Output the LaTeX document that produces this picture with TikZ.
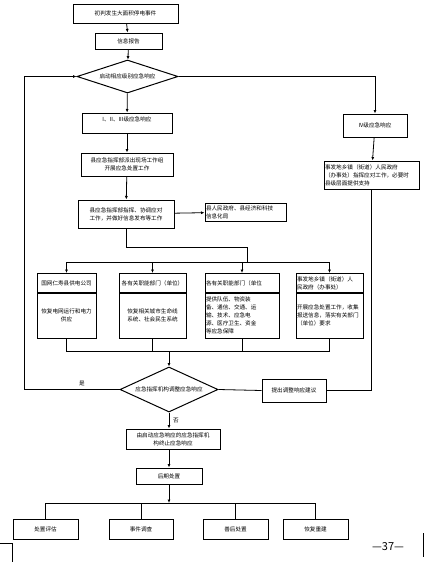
\documentclass[tikz,border=0pt]{standalone}
\usepackage{fontspec}
\setmainfont{Noto Sans CJK SC}
\usetikzlibrary{arrows.meta,shapes.geometric}
\tikzset{
  box/.style={draw, line width=1pt, inner sep=1pt, align=center, font=\fontsize{5.6}{8}\selectfont},
  lbox/.style={box, align=left},
  choice/.style={draw, diamond, line width=1pt, inner sep=0pt, font=\fontsize{5.6}{8}\selectfont},
  link/.style={line width=0.8pt},
  flow/.style={link, -{Latex[length=3.5pt,width=3pt]}},
}
\begin{document}
\begin{tikzpicture}[x=1pt,y=-1pt]
	\useasboundingbox (0,0) rectangle (425,562);
	\node[box, minimum width=105pt, minimum height=19pt] (start) at (125.5,13.5) {初判发生大面积停电事件};
	\node[box, minimum width=67pt, minimum height=16pt] (report) at (128.5,41) {信息报告};
	\node[choice, aspect=3, minimum width=101pt, minimum height=33pt] (level) at (127.5,76.5) {启动相应级别应急响应};
	\node[box, minimum width=90pt, minimum height=20pt] (major) at (127,123) {I、II、III级应急响应\\ \mbox{}};
	\node[box, minimum width=64pt, minimum height=23pt] (minor) at (375,125.5) {IV级应急响应};
	\node[lbox, text width=93pt, minimum height=28pt] (town) at (371.5,175) {事发地乡镇（街道）人民政府\\（办事处）指挥应对工作，必要时\\县级层面提供支持};
	\node[box, minimum width=92pt, minimum height=23pt] (team) at (127,164.5) {县应急指挥部派出现场工作组\\开展应急处置工作};
	\node[box, minimum width=96pt, minimum height=28pt] (command) at (126,214) {县应急指挥部指挥、协调应对\\工作，并做好信息发布等工作};
	\node[lbox, text width=79pt, minimum height=18pt] (inform) at (245.5,212) {县人民政府、县经济和科技\\信息化局};
	\node[box, minimum width=59pt, minimum height=19pt] (gridh) at (66.5,283) {国网仁寿县供电公司};
	\node[box, minimum width=59pt, minimum height=44.5pt, anchor=north] (gridb) at (gridh.south) {恢复电网运行和电力\\供应};
	\node[box, minimum width=67pt, minimum height=19pt] (lifeh) at (152.5,283) {各有关职能部门（单位）};
	\node[box, minimum width=67pt, minimum height=44.5pt, anchor=north] (lifeb) at (lifeh.south) {恢复相关城市生命线\\系统、社会民生系统};
	\node[lbox, text width=72pt, minimum height=19pt] (supph) at (242,283) {各有关职能部门（单位};
	\node[lbox, text width=72pt, minimum height=44.5pt, anchor=north] (suppb) at (supph.south) {提供队伍、物资装\\备、通信、交通、运\\输、技术、应急电\\源、医疗卫生、资金\\等应急保障};
	\node[lbox, text width=65pt, minimum height=19pt] (townh) at (329.5,283) {事发地乡镇（街道）人\\民政府（办事处）};
	\node[lbox, text width=65pt, minimum height=44.5pt, anchor=north] (townb) at (townh.south) {开展应急处置工作，收集\\报送信息，落实有关部门\\（单位）要求};
	\node[choice, aspect=2.2, minimum width=98pt, minimum height=45pt] (adjust) at (169,389.5) {应急指挥机构调整应急响应};
	\node[box, minimum width=64pt, minimum height=23pt] (suggest) at (294,390.5) {提出调整响应建议};
	\node[box, minimum width=94pt, minimum height=20pt] (finish) at (173,439) {由启动应急响应的应急指挥机\\构终止应急响应};
	\node[box, minimum width=66pt, minimum height=16pt] (after) at (169,476) {后期处置};
	\node[box, minimum width=65pt, minimum height=20pt] (eval) at (45.5,529) {处置评估};
	\node[box, minimum width=64pt, minimum height=20pt] (probe) at (141,529) {事件调查};
	\node[box, minimum width=65pt, minimum height=20pt] (relief) at (235.5,529) {善后处置};
	\node[box, minimum width=65pt, minimum height=20pt] (rebuild) at (315.5,529) {恢复重建};
	\node[font=\fontsize{5.6}{8}\selectfont] (yes) at (82,383) {是};
	\node[font=\fontsize{5.6}{8}\selectfont] (no) at (176,421) {否};
	\node[font=\fontsize{11}{13}\selectfont] (page) at (388,547) {—37—};
	\coordinate (bend) at (247,247);
	\coordinate (split) at (247,262);
	\coordinate (merge) at (169,351);
	\coordinate (loop) at (24,389.5);
	\coordinate (fan) at (169,503);
	\draw[flow] (start) -- (report);
	\draw[flow] (report) -- (level);
	\draw[flow] (level) -- (major);
	\draw[flow] (level.east) -| (minor.north);
	\draw[flow] (minor) -- (town);
	\draw[flow] (major) -- (team);
	\draw[flow] (team) -- (command);
	\draw[flow] (command) -- (inform);
	\draw[link] (command.south) |- (bend) -- (split);
	\draw[link] (split -| gridh.north) -- (split -| townh.north);
	\foreach \n in {gridh,lifeh,supph,townh}
		\draw[flow] (split -| \n.north) -- (\n.north);
	\draw[link] (gridb.south) |- (merge -| townb.south) -- (townb.south);
	\foreach \n in {lifeb,suppb}
		\draw[link] (\n.south) -- (\n.south |- merge);
	\draw[flow] (merge) -- (adjust.north);
	\draw[link] (town.south) |- (suggest.east);
	\draw[link] (suggest.west) -- (adjust.east);
	\draw[flow] (adjust.west) -- (loop) |- (level.west);
	\draw[flow] (adjust.south) -- (adjust.south |- finish.north);
	\draw[flow] (after.north |- finish.south) -- (after.north);
	\draw[flow] (after.south) -- (fan);
	\draw[link] (fan -| eval.north) -- (fan -| rebuild.north);
	\foreach \n in {eval,probe,relief,rebuild}
		\draw[link] (fan -| \n.north) -- (\n.north);
	\draw[line width=0.6pt] (0,543) -- (12,543) -- (12,562);
	\draw[line width=0.6pt] (423,533) -- (423,557);
\end{tikzpicture}
\end{document}
